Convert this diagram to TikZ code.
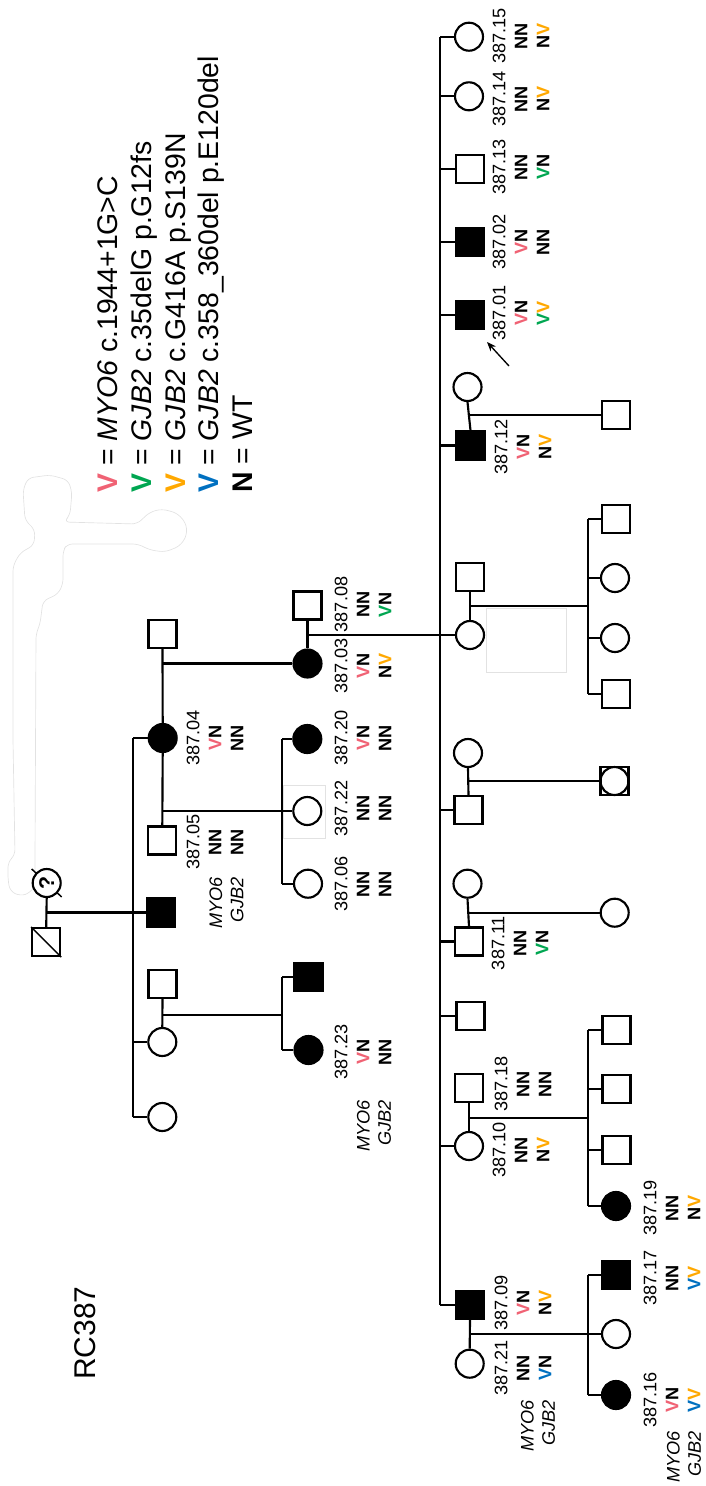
\documentclass[tikz,border=0pt]{standalone}
\usepackage{fontspec}
\setmainfont{Liberation Sans}
\usetikzlibrary{arrows.meta}
\definecolor{cP}{RGB}{240,98,116}
\definecolor{cG}{RGB}{0,166,81}
\definecolor{cO}{RGB}{255,168,0}
\definecolor{cB}{RGB}{0,112,192}
\definecolor{faint}{RGB}{226,226,226}
\newcommand\xvP{\textcolor{cP}{V}}
\newcommand\xvG{\textcolor{cG}{V}}
\newcommand\xvO{\textcolor{cO}{V}}
\newcommand\xvB{\textcolor{cB}{V}}
\begin{document}
\begin{tikzpicture}[x=0.75pt,y=-0.75pt,
  ln/.style={line width=1.6pt},
  sym/.style={draw, line width=1.6pt, inner sep=0pt, minimum size=21pt},
  ma/.style={sym, rectangle, fill=white},
  maA/.style={sym, rectangle, fill=black},
  fe/.style={sym, circle, fill=white},
  feA/.style={sym, circle, fill=black},
  lab/.style={rotate=90, align=center, inner sep=0pt, font=\fontsize{13.6pt}{16.5pt}\selectfont},
  gene/.style={rotate=90, align=right, inner sep=0pt, anchor=east, font=\fontsize{13.6pt}{16pt}\selectfont\itshape},
  leg/.style={rotate=90, anchor=base west, inner sep=0pt, font=\fontsize{21.3pt}{25pt}\selectfont},
  ghost/.style={draw=faint, line width=0.5pt}
]
\useasboundingbox (0,0) rectangle (706,1486);

% faint artefacts
\draw[ghost, rounded corners=4pt] (23,490) -- (28,478) -- (50,475) -- (68,480) -- (72,492) -- (70,515) -- (64,522) -- (137,524)
  -- (150,512) -- (162,509) -- (177,513) -- (186,523) -- (187,535) -- (180,546) -- (165,552) -- (150,550) -- (138,544)
  -- (67,544) -- (63,551) -- (63,584) -- (58,594) -- (43,601) -- (40,624) -- (36,634) -- (35,860) -- (35,885) -- (30,893)
  -- (20,896) -- (10,891) -- (8,880) -- (8,862) -- (15,855) -- (13,740) -- (13,566) -- (20,553) -- (34,545) -- (35,530)
  -- (25,520) -- cycle;
\draw[ghost] (283,785) rectangle (325,838);
\draw[ghost] (486,608) rectangle (566,672);

% legend
\node[leg] (lg1) at (117,492.7) {\textbf{\xvP} = \textit{MYO6} c.1944+1G>C};
\node[leg] (lg2) at (151,492.7) {\textbf{\xvG} = \textit{GJB2} c.35delG p.G12fs};
\node[leg] (lg3) at (185,492.7) {\textbf{\xvO} = \textit{GJB2} c.G416A p.S139N};
\node[leg] (lg4) at (218,492.7) {\textbf{\xvB} = \textit{GJB2} c.358\_360del p.E120del};
\node[leg] (lg5) at (252,492.7) {\textbf{N} = WT};

\node[rotate=90, font=\fontsize{22.5pt}{27pt}\selectfont] (title) at (85,1333) {RC387};

% founders
\coordinate (gmc) at (46.7,883);
\draw[line width=1.1pt] ([shift={(-15,-14)}]gmc) -- ([shift={(15,14)}]gmc);
\node[fe] (gm) at (gmc) {};
\node[rotate=90, inner sep=0pt, font=\fontsize{16pt}{16pt}\selectfont\bfseries] (gmq) at (gm.center) {?};
\node[ma] (gf) at (46.2,942) {};
\draw[line width=1.1pt] (gf.north west) -- (gf.south east);

% generation II
\coordinate (aX) at (133.3,0);
\node[feA] (p04) at (162.7,738) {};
\node[maA] (a2) at (161.3,912.5) {};
\node[fe] (a3) at (162.3,1042) {};
\node[fe] (a4) at (162.3,1117) {};
\node[ma] (sp1) at (162.5,634) {};
\node[ma] (p05) at (162.3,840.5) {};
\node[ma] (a3s) at (162.5,984) {};

% generation III (left)
\node[feA] (p03) at (307.5,663.5) {};
\node[ma] (p08) at (307.5,605.5) {};
\coordinate (bX) at (281.7,0);
\node[feA] (p20) at (307.3,739) {};
\node[fe] (p22) at (307.3,811) {};
\node[fe] (p06) at (308,883.7) {};
\coordinate (cX) at (281.7,0);
\node[maA] (c1) at (308.5,977) {};
\node[feA] (p23) at (308.5,1050) {};

% generation IV (main sibship)
\coordinate (mX) at (440,0);
\node[fe] (p15) at (469,36.7) {};
\node[fe] (p14) at (469,96.3) {};
\node[ma] (p13) at (470,169) {};
\node[maA] (p02) at (470,242) {};
\node[maA] (p01) at (470,315) {};
\node[maA] (p12) at (470.5,445.5) {};
\node[fe] (c6) at (470,635) {};
\node[ma] (c7) at (468.5,810) {};
\node[ma] (p11) at (469,941.5) {};
\node[ma] (c9) at (470.5,1016) {};
\node[fe] (p10) at (469,1146) {};
\node[maA] (p09) at (470,1305) {};

% spouses of generation IV
\node[fe] (p12s) at (467.5,387) {};
\node[ma] (c6s) at (470,577) {};
\node[fe] (c7s) at (468,753) {};
\node[fe] (p11s) at (467.5,883.7) {};
\node[ma] (p18) at (469,1088) {};
\node[fe] (p21) at (469.7,1363.7) {};

% generation V
\coordinate (dX) at (588,0);
\node[ma] (p12c) at (616,415) {};
\node[ma] (d1) at (616,519) {};
\node[fe] (d2) at (615,578) {};
\node[fe] (d3) at (615,638) {};
\node[ma] (d4) at (616,694) {};
\node[ma] (c7c) at (614.5,781) {};
\node[sym, circle] (c7cc) at (614.5,781) {};
\node[fe] (p11c) at (614.7,912.7) {};
\node[ma] (e1) at (616.5,1030) {};
\node[ma] (e2) at (616.5,1089) {};
\node[ma] (e3) at (616.5,1150) {};
\node[feA] (p19) at (616,1206) {};
\node[maA] (p17) at (616,1275) {};
\node[fe] (f2) at (616,1334) {};
\node[feA] (p16) at (616,1395) {};

% ---------- connectors ----------
% founders
\draw[ln] (gm.south) -- (gf.north);
\draw[ln] (gm.south |- a2.west) -- (a2.west);
\draw[ln] (p04.west -| aX) -- (a4.west -| aX);
\foreach \n in {p04,a3,a4} \draw[ln] (\n.west) -- (\n.west -| aX);
% p04 marriages
\draw[ln] (sp1.south) -- (p04.north);
\draw[ln] (p04.south) -- (p05.north);
\draw[ln] (sp1.south |- p03.west) -- (p03.west);
\draw[ln] (p04.south |- p22.west) -- (p22.west);
\draw[ln] (p20.west -| bX) -- (p06.west -| bX);
\foreach \n in {p20,p06} \draw[ln] (\n.west) -- (\n.west -| bX);
% a3 marriage
\draw[ln] (a3s.south) -- (a3.north);
\coordinate (dC) at (281.7,1014.7);
\draw[ln] (a3s.south |- dC) -- (dC);
\draw[ln] (c1.west -| cX) -- (p23.west -| cX);
\foreach \n in {c1,p23} \draw[ln] (\n.west) -- (\n.west -| cX);
% p03 marriage and main sibship
\draw[ln] (p08.south) -- (p03.north);
\draw[ln] (p08.south |- c6.west) -- (c6.west -| mX);
\draw[ln] (p15.west -| mX) -- (p09.west -| mX);
\foreach \n in {p15,p14,p13,p02,p01,p12,c6,c7,p11,c9,p10,p09} \draw[ln] (\n.west) -- (\n.west -| mX);
% generation IV marriages
\draw[ln] (p12s.south) -- (p12.north);
\draw[ln] (p12s.south |- p12c.west) -- (p12c.west);
\draw[ln] (c6s.south) -- (c6.north);
\coordinate (dD) at (588,606);
\draw[ln] (c6s.south |- dD) -- (dD);
\draw[ln] (d1.west -| dX) -- (d4.west -| dX);
\foreach \n in {d1,d2,d3,d4} \draw[ln] (\n.west) -- (\n.west -| dX);
\draw[ln] (c7s.south) -- (c7.north);
\draw[ln] (c7s.south |- c7c.west) -- (c7c.west);
\draw[ln] (p11s.south) -- (p11.north);
\draw[ln] (p11s.south |- p11c.west) -- (p11c.west);
\draw[ln] (p18.south) -- (p10.north);
\coordinate (dE) at (588,1118);
\draw[ln] (p18.south |- dE) -- (dE);
\draw[ln] (e1.west -| dX) -- (p19.west -| dX);
\foreach \n in {e1,e2,e3,p19} \draw[ln] (\n.west) -- (\n.west -| dX);
\draw[ln] (p09.south) -- (p21.north);
\draw[ln] (p09.south |- f2.west) -- (f2.west);
\draw[ln] (p17.west -| dX) -- (p16.west -| dX);
\foreach \n in {p17,p16} \draw[ln] (\n.west) -- (\n.west -| dX);

% proband arrow
\coordinate (arT) at (509,366);
\coordinate (arH) at (487,342);
\draw[line width=1pt, -{Stealth[length=7pt,width=5.5pt]}] (arT) -- (arH);

% ---------- labels ----------
\node[lab] (L15) at (521,36) {387.15\\\textbf{NN}\\\textbf{N\xvO}};
\node[lab] (L14) at (521,99) {387.14\\\textbf{NN}\\\textbf{N\xvO}};
\node[lab] (L13) at (521,167) {387.13\\\textbf{NN}\\\textbf{\xvG N}};
\node[lab] (L02) at (521,242) {387.02\\\textbf{\xvP N}\\\textbf{NN}};
\node[lab] (L01) at (521,313) {387.01\\\textbf{\xvP N}\\\textbf{\xvG\xvO}};
\node[lab] (L12) at (523,447) {387.12\\\textbf{\xvP N}\\\textbf{N\xvO}};
\node[lab] (L08) at (363,604.5) {387.08\\\textbf{NN}\\\textbf{\xvG N}};
\node[lab] (L03) at (363,666) {387.03\\\textbf{\xvP N}\\\textbf{N\xvO}};
\node[lab] (L04) at (215,738) {387.04\\\textbf{\xvP N}\\\textbf{NN}};
\node[lab] (L05) at (215,842) {387.05\\\textbf{NN}\\\textbf{NN}};
\node[lab] (L20) at (363,738) {387.20\\\textbf{\xvP N}\\\textbf{NN}};
\node[lab] (L22) at (363,808.5) {387.22\\\textbf{NN}\\\textbf{NN}};
\node[lab] (L06) at (363,884) {387.06\\\textbf{NN}\\\textbf{NN}};
\node[lab] (L23) at (363,1052) {387.23\\\textbf{\xvP N}\\\textbf{NN}};
\node[lab] (L11) at (520,943) {387.11\\\textbf{NN}\\\textbf{\xvG N}};
\node[lab] (L18) at (523,1084) {387.18\\\textbf{NN}\\\textbf{NN}};
\node[lab] (L10) at (521,1150) {387.10\\\textbf{NN}\\\textbf{N\xvO}};
\node[lab] (L19) at (672,1208) {387.19\\\textbf{NN}\\\textbf{N\xvO}};
\node[lab] (L09) at (523,1303) {387.09\\\textbf{\xvP N}\\\textbf{N\xvO}};
\node[lab] (L21) at (523,1368) {387.21\\\textbf{NN}\\\textbf{\xvB N}};
\node[lab] (L17) at (672,1278) {387.17\\\textbf{NN}\\\textbf{\xvB\xvO}};
\node[lab] (L16) at (672,1400) {387.16\\\textbf{\xvP N}\\\textbf{\xvB\xvO}};

\node[gene] (G05) at (226.5,877) {MYO6\\GJB2};
\node[gene] (G23) at (374,1100) {MYO6\\GJB2};
\node[gene] (G21) at (538,1400) {MYO6\\GJB2};
\node[gene] (G16) at (684,1431) {MYO6\\GJB2};
\end{tikzpicture}
\end{document}
